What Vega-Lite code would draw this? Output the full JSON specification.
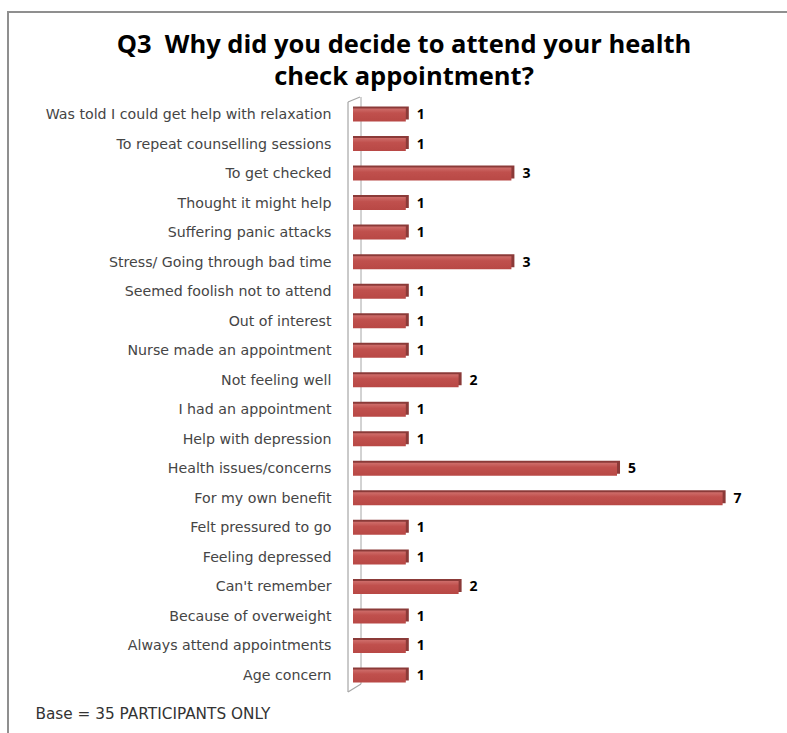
{
  "$schema": "https://vega.github.io/schema/vega-lite/v6.json",
  "autosize": "none",
  "padding": {"left": 8, "top": 12, "right": 0, "bottom": 0},
  "width": 800,
  "height": 740,
  "background": "white",
  "config": {
    "view": {"stroke": "#8f8f8f", "strokeWidth": 2},
    "font": "DejaVu Sans"
  },
  "title": {
    "text": ["Q3\u00a0 Why did you decide to attend your health", "check appointment?"],
    "anchor": "middle",
    "frame": "group",
    "orient": "top",
    "offset": -80,
    "dx": -4,
    "dy": -2,
    "font": "Open Sans",
    "fontSize": 25.5,
    "fontWeight": "bold",
    "color": "#000000",
    "lineHeight": 32
  },
  "data": {
    "values": [
      {"reason": "Was told I could get help with relaxation", "count": 1},
      {"reason": "To repeat counselling sessions", "count": 1},
      {"reason": "To get checked", "count": 3},
      {"reason": "Thought it might help", "count": 1},
      {"reason": "Suffering panic attacks", "count": 1},
      {"reason": "Stress/ Going through bad time", "count": 3},
      {"reason": "Seemed foolish not to attend", "count": 1},
      {"reason": "Out of interest", "count": 1},
      {"reason": "Nurse made an appointment", "count": 1},
      {"reason": "Not feeling well", "count": 2},
      {"reason": "I had an appointment", "count": 1},
      {"reason": "Help with depression", "count": 1},
      {"reason": "Health issues/concerns", "count": 5},
      {"reason": "For my own benefit", "count": 7},
      {"reason": "Felt pressured to go", "count": 1},
      {"reason": "Feeling depressed", "count": 1},
      {"reason": "Can't remember", "count": 2},
      {"reason": "Because of overweight", "count": 1},
      {"reason": "Always attend appointments", "count": 1},
      {"reason": "Age concern", "count": 1}
    ]
  },
  "encoding": {
    "y": {
      "field": "reason",
      "type": "nominal",
      "sort": null,
      "scale": {
        "domain": ["Was told I could get help with relaxation", "To repeat counselling sessions", "To get checked", "Thought it might help", "Suffering panic attacks", "Stress/ Going through bad time", "Seemed foolish not to attend", "Out of interest", "Nurse made an appointment", "Not feeling well", "I had an appointment", "Help with depression", "Health issues/concerns", "For my own benefit", "Felt pressured to go", "Feeling depressed", "Can't remember", "Because of overweight", "Always attend appointments", "Age concern"],
        "range": [96.5, 670.5],
        "paddingInner": 0.56,
        "paddingOuter": 0
      },
      "axis": {
        "orient": "left",
        "offset": -340,
        "domain": false,
        "ticks": false,
        "tickSize": 0,
        "grid": false,
        "labelPadding": 17,
        "labelFont": "DejaVu Sans",
        "labelFontSize": 14.2,
        "labelColor": "#454545",
        "labelLimit": 0,
        "title": "Base = 35 PARTICIPANTS ONLY",
        "titleAngle": 0,
        "titleX": -313,
        "titleY": 701,
        "titleAlign": "left",
        "titleBaseline": "middle",
        "titleFont": "DejaVu Sans",
        "titleFontSize": 15.3,
        "titleFontWeight": "normal",
        "titleColor": "#333333"
      }
    }
  },
  "layer": [
    {
      "data": {"values": [{"part": "wall"}]},
      "mark": {"type": "rule", "color": "#a6a6a6", "strokeWidth": 1, "xOffset": 8, "yOffset": -18, "y2Offset": 8},
      "encoding": {
        "x": {"datum": 0, "type": "quantitative", "scale": {"domain": [-6.534, 8.617], "nice": false, "zero": false}, "axis": null},
        "y": {"datum": "Was told I could get help with relaxation"},
        "y2": {"datum": "Age concern"}
      }
    },
    {
      "mark": {"type": "bar", "color": "#8b3a38", "xOffset": 3, "yOffset": -2},
      "encoding": {
        "x": {"field": "count", "type": "quantitative"},
        "x2": {"datum": 0}
      }
    },
    {
      "mark": {
        "type": "bar",
        "color": {
          "gradient": "linear", "x1": 0, "y1": 0, "x2": 0, "y2": 1,
          "stops": [{"offset": 0, "color": "#cf6e6b"}, {"offset": 0.35, "color": "#c0504d"}, {"offset": 1, "color": "#b84845"}]
        }
      },
      "encoding": {
        "x": {"field": "count", "type": "quantitative"},
        "x2": {"datum": 0}
      }
    },
    {
      "mark": {"type": "text", "align": "left", "baseline": "middle", "dx": 11, "font": "Open Sans", "fontSize": 14, "fontWeight": "bold", "color": "#000000"},
      "encoding": {
        "x": {"field": "count", "type": "quantitative"},
        "text": {"field": "count", "type": "quantitative"}
      }
    },
    {
      "data": {"values": [{"part": "wall"}]},
      "mark": {"type": "rule", "color": "#a6a6a6", "strokeWidth": 1.2, "xOffset": -5, "yOffset": -13, "y2Offset": 16},
      "encoding": {
        "x": {"datum": 0},
        "y": {"datum": "Was told I could get help with relaxation"},
        "y2": {"datum": "Age concern"}
      }
    },
    {
      "data": {"values": [{"part": "wall"}]},
      "mark": {"type": "rule", "color": "#a6a6a6", "strokeWidth": 1.2, "xOffset": -5, "x2Offset": 7, "yOffset": -13, "y2Offset": -18},
      "encoding": {
        "x": {"datum": 0},
        "x2": {"datum": 0},
        "y": {"datum": "Was told I could get help with relaxation"},
        "y2": {"datum": "Was told I could get help with relaxation"}
      }
    },
    {
      "data": {"values": [{"part": "wall"}]},
      "mark": {"type": "rule", "color": "#a6a6a6", "strokeWidth": 1.2, "xOffset": -5, "x2Offset": 8, "yOffset": 16, "y2Offset": 8},
      "encoding": {
        "x": {"datum": 0},
        "x2": {"datum": 0},
        "y": {"datum": "Age concern"},
        "y2": {"datum": "Age concern"}
      }
    }
  ]
}
